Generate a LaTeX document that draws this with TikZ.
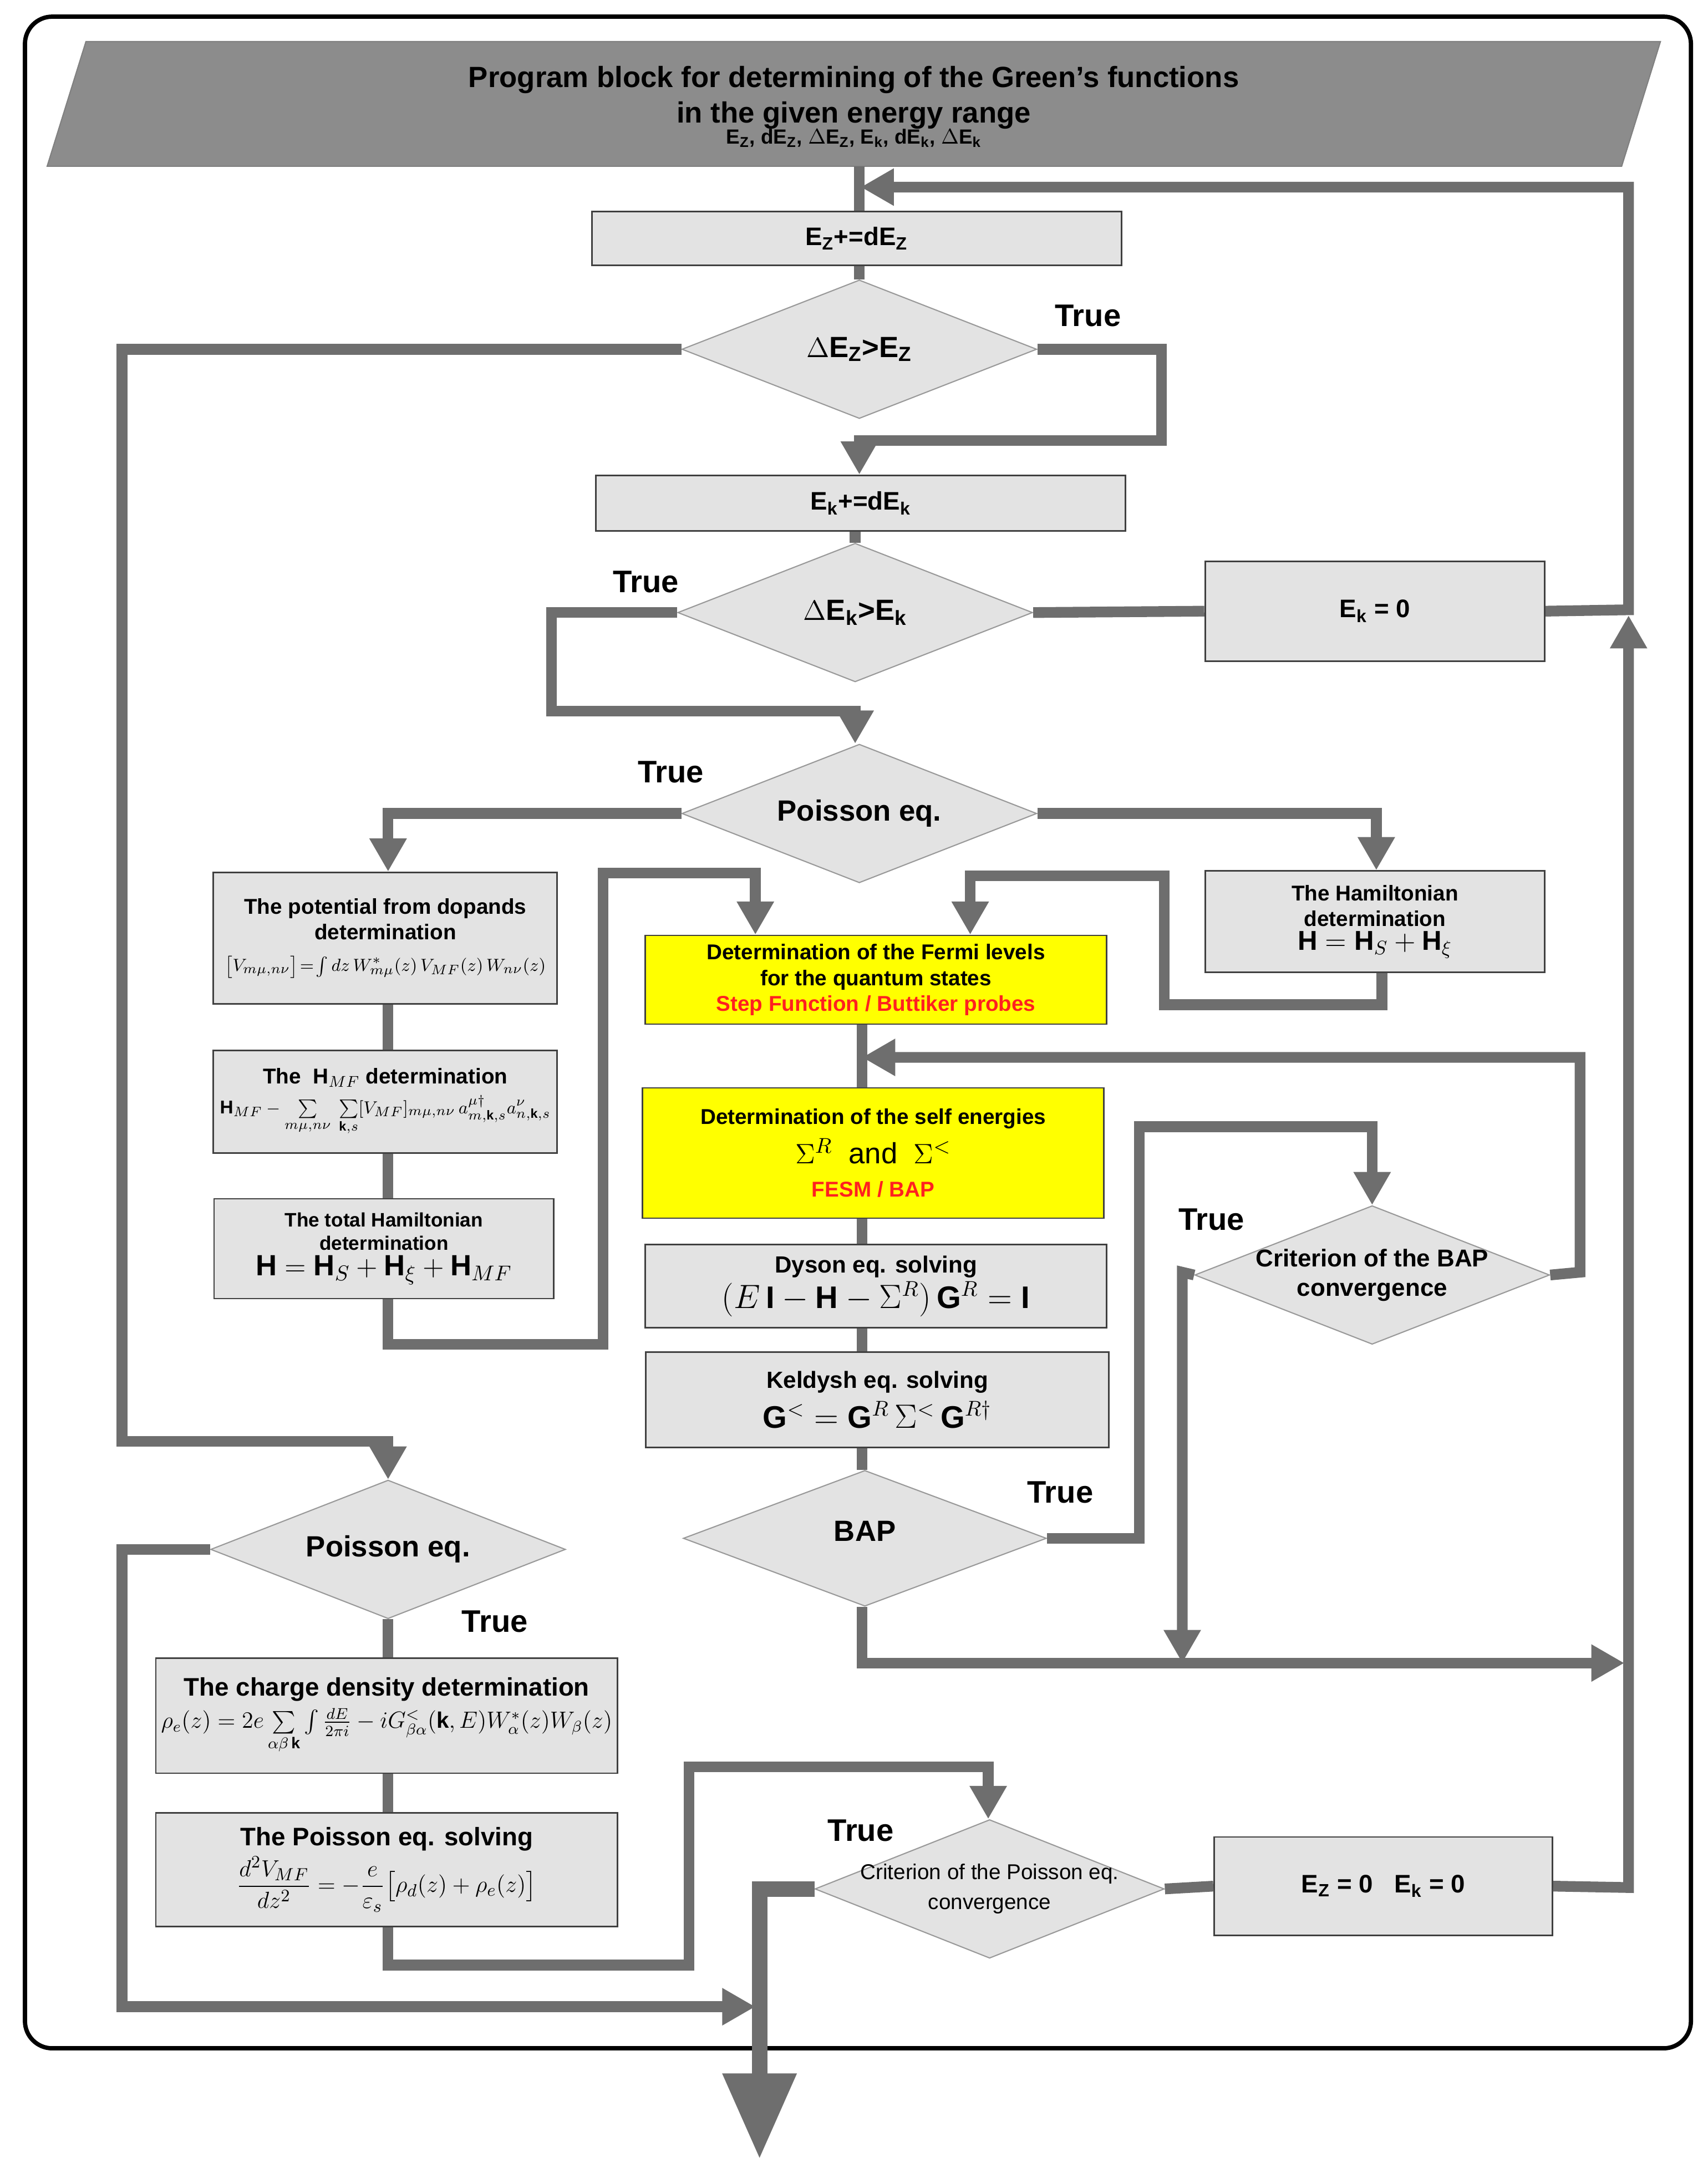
\documentclass[tikz,border=0pt]{standalone}
\usepackage{amsmath,amssymb}
\usepackage{fontspec}
\setmainfont{Liberation Sans}
\usetikzlibrary{shapes.geometric,arrows.meta}
\definecolor{boxg}{HTML}{E3E3E3}
\definecolor{lineg}{HTML}{6E6E6E}
\definecolor{topg}{HTML}{8C8C8C}
\definecolor{yel}{HTML}{FFFF00}
\definecolor{redt}{HTML}{FF2020}
\newcommand{\fs}[1]{\fontsize{#1}{\dimexpr #1*12/10\relax}\selectfont}
\begin{document}
\begin{tikzpicture}[x=0.025cm,y=-0.025cm,
  box/.style={draw=black!75,line width=0.8pt,fill=boxg,align=center,inner sep=1pt,font=\bfseries\fs{11pt}},
  ybox/.style={box,fill=yel},
  dia/.style={diamond,draw=black!40,line width=0.6pt,fill=boxg,inner sep=0pt,minimum width=6.4cm,minimum height=2.5cm},
  dlab/.style={align=center,font=\bfseries\fs{15pt}},
  con/.style={draw=lineg,line width=5.5pt,line join=miter},
  arr/.style={con,-{Triangle[length=17pt,width=18pt]}},
  tru/.style={font=\bfseries\fs{16pt}}]
\useasboundingbox (0,0) rectangle (1232,1568);
% outer frame
\draw[line width=2.2pt,rounded corners=14pt] (18,12) rectangle (1220,1478);
% top parallelogram
\path[fill=topg,draw=black!50,line width=0.6pt] (62,30) -- (1198,30) -- (1170,120) -- (34,120) -- cycle;
\node[align=center,font=\bfseries] (top) at (616,77) {{\fs{15pt}Program block for determining of the Green’s functions}\\[3pt]{\fs{15pt}in the given energy range}\\[-1pt]{\fs{10.5pt}E\textsubscript{Z}, dE\textsubscript{Z}, $\Delta$E\textsubscript{Z}, E\textsubscript{k}, dE\textsubscript{k}, $\Delta$E\textsubscript{k}}};
\coordinate (topb) at (620,120);
% boxes
\node[box,minimum width=9.55cm,minimum height=0.975cm,font=\bfseries\fs{13pt}] (ez) at (618,172) {E\textsubscript{Z}+=dE\textsubscript{Z}};
\node[box,minimum width=9.55cm,minimum height=1cm,font=\bfseries\fs{13pt}] (ek) at (621,363) {E\textsubscript{k}+=dE\textsubscript{k}};
\node[box,minimum width=6.125cm,minimum height=1.8cm,font=\bfseries\fs{13pt}] (ek0) at (992,441) {E\textsubscript{k} = 0};
\node[box,minimum width=6.2cm,minimum height=2.375cm] (pot) at (278,677) {The potential from dopands\\determination\\[3pt]{\mdseries\fs{9.5pt}$\bigl[V_{m\mu,n\nu}\bigr]\!=\!\int dz\,W^{*}_{m\mu}(z)\,V_{MF}(z)\,W_{n\nu}(z)$}};
\node[box,minimum width=6.2cm,minimum height=1.85cm] (hmf) at (278,795) {The \ $\mathbf{H}_{MF}$ determination\\[2pt]{\mdseries\fs{9.5pt}$\mathbf{H}_{MF}-\sum\limits_{m\mu,n\nu}\;\sum\limits_{\mathbf{k},s}[V_{MF}]_{m\mu,n\nu}\,a^{\mu\dagger}_{m,\mathbf{k},s}a^{\nu}_{n,\mathbf{k},s}$}};
\node[box,minimum width=6.125cm,minimum height=1.8cm,font=\bfseries\fs{10pt}] (toth) at (277,901) {The total Hamiltonian\\determination\\[1pt]{\mdseries\fs{15pt}$\mathbf{H}=\mathbf{H}_S+\mathbf{H}_\xi+\mathbf{H}_{MF}$}};
\node[box,minimum width=6.125cm,minimum height=1.825cm] (ham) at (992,665) {The Hamiltonian\\determination\\[-1pt]{\mdseries\fs{14pt}$\mathbf{H}=\mathbf{H}_S+\mathbf{H}_\xi$}};
\node[ybox,minimum width=8.325cm,minimum height=1.6cm] (fermi) at (632,707) {Determination of the Fermi levels\\for the quantum states\\\textcolor{redt}{Step Function / Buttiker probes}};
\node[ybox,minimum width=8.325cm,minimum height=2.35cm] (self) at (630,832) {Determination of the self energies\\[4pt]{\mdseries\fs{15pt}$\Sigma^R$ \ and \ $\Sigma^<$}\\[4pt]\textcolor{redt}{FESM / BAP}};
\node[box,minimum width=8.325cm,minimum height=1.5cm,font=\bfseries\fs{12pt}] (dyson) at (632,928) {Dyson eq. solving\\[1pt]{\mdseries\fs{16pt}$(E\,\mathbf{I}-\mathbf{H}-\Sigma^R)\,\mathbf{G}^R=\mathbf{I}$}};
\node[box,minimum width=8.35cm,minimum height=1.725cm,font=\bfseries\fs{12pt}] (keld) at (633,1010) {Keldysh eq. solving\\[3pt]{\mdseries\fs{16pt}$\mathbf{G}^<=\mathbf{G}^R\,\Sigma^<\,\mathbf{G}^{R\dagger}$}};
\node[box,minimum width=8.325cm,minimum height=2.075cm,font=\bfseries\fs{13pt}] (charge) at (279,1238) {The charge density determination\\[1pt]{\mdseries\fs{11.5pt}$\rho_e(z)=2e\sum\limits_{\alpha\beta\,\mathbf{k}}\int\frac{dE}{2\pi i}-iG^<_{\beta\alpha}(\mathbf{k},E)W^*_\alpha(z)W_\beta(z)$}};
\node[box,minimum width=8.325cm,minimum height=2.05cm,font=\bfseries\fs{13pt}] (psolve) at (279,1349) {The Poisson eq. solving\\[2pt]{\mdseries\fs{13pt}$\dfrac{d^2V_{MF}}{dz^2}=-\dfrac{e}{\varepsilon_s}\bigl[\rho_d(z)+\rho_e(z)\bigr]$}};
\node[box,minimum width=6.1cm,minimum height=1.775cm,font=\bfseries\fs{13pt}] (ez0) at (998,1361) {E\textsubscript{Z} = 0 \ \ E\textsubscript{k} = 0};
% diamonds
\node[dia] (dez) at (620,252) {};
\node[dlab] at (dez) {$\Delta$E\textsubscript{Z}>E\textsubscript{Z}};
\node[dia] (dek) at (617,442) {};
\node[dlab] at (dek) {$\Delta$E\textsubscript{k}>E\textsubscript{k}};
\node[dia] (pois) at (620,587) {};
\node[dlab] at (pois) {Poisson eq.};
\node[dia,minimum width=6.55cm,minimum height=2.45cm] (bap) at (624,1110) {};
\node[dlab] at (624,1105) {BAP};
\node[dia] (cbap) at (990,920) {};
\node[dlab,font=\bfseries\fs{12.5pt}] at (cbap) {Criterion of the BAP\\convergence};
\node[dia] (pois2) at (280,1118) {};
\node[dlab] at (pois2) {Poisson eq.};
\node[dia,minimum width=6.3cm] (cpois) at (714,1363) {};
\node[dlab,font=\fs{11pt}] at (cpois) {Criterion of the Poisson eq.\\[2pt]convergence};
% True labels
\node[tru] at (785,228) {True};
\node[tru] at (466,420) {True};
\node[tru] at (484,557) {True};
\node[tru] at (765,1077) {True};
\node[tru] at (874,880) {True};
\node[tru] at (357,1170) {True};
\node[tru] at (621,1321) {True};
% connectors
\draw[con] (topb) -- (ez.north -| topb);
\draw[arr] (ek0.east) -- (1175,440) -- (1175,135) -- (621,135);
\draw[arr] (ez0.east) -- (1175,1362) -- (1175,444);
\draw[con] (ez.south -| 620,0) -- (dez.north);
\draw[arr] (dez.east) -- (838,252) -- (838,318) -- (620,318) -- (ek.north -| 620,0);
\draw[arr] (dez.west) -- (88,252) -- (88,1040) -- (280,1040) -- (pois2.north);
\draw[con] (ek.south -| 617,0) -- (dek.north);
\draw[con] (dek.east) -- (ek0.west);
\draw[arr] (dek.west) -- (398,442) -- (398,513) -- (617,513) -- (pois.north -| 617,0);
\draw[arr] (pois.west) -- (280,587) -- (pot.north -| 280,0);
\draw[arr] (pois.east) -- (993,587) -- (ham.north -| 993,0);
\draw[con] (pot.south -| 280,0) -- (hmf.north -| 280,0);
\draw[con] (hmf.south -| 280,0) -- (toth.north -| 280,0);
\draw[arr] (toth.south -| 280,0) -- (280,970) -- (435,970) -- (435,630) -- (545,630) -- (fermi.north -| 545,0);
\draw[arr] (ham.south -| 997,0) -- (997,725) -- (840,725) -- (840,632) -- (700,632) -- (fermi.north -| 700,0);
\draw[con] (fermi.south -| 622,0) -- (self.north -| 622,0);
\draw[arr] (cbap.east) -- (1140,918) -- (1140,763) -- (622,763);
\draw[con] (self.south -| 622,0) -- (dyson.north -| 622,0);
\draw[con] (dyson.south -| 622,0) -- (keld.north -| 622,0);
\draw[con] (keld.south -| 622,0) -- (bap.north -| 622,0);
\draw[arr] (bap.east) -- (822,1110) -- (822,813) -- (990,813) -- (cbap.north);
\draw[arr] (cbap.west) -- (853,918) -- (853,1200);
\draw[arr] (bap.south -| 622,0) -- (622,1200) -- (1172,1200);
\draw[arr] (pois2.west) -- (88,1118) -- (88,1448) -- (545,1448);
\draw[con] (pois2.south) -- (charge.north -| 280,0);
\draw[con] (charge.south -| 280,0) -- (psolve.north -| 280,0);
\draw[arr] (psolve.south -| 280,0) -- (280,1418) -- (497,1418) -- (497,1275) -- (713,1275) -- (cpois.north -| 713,0);
\draw[con] (cpois.east) -- (ez0.west);
\coordinate (exit) at (548,1558);
\draw[draw=lineg,line width=8pt,-{Triangle[length=44pt,width=36pt]}] (cpois.west) -- (548,1363) -- (exit);
\end{tikzpicture}
\end{document}
